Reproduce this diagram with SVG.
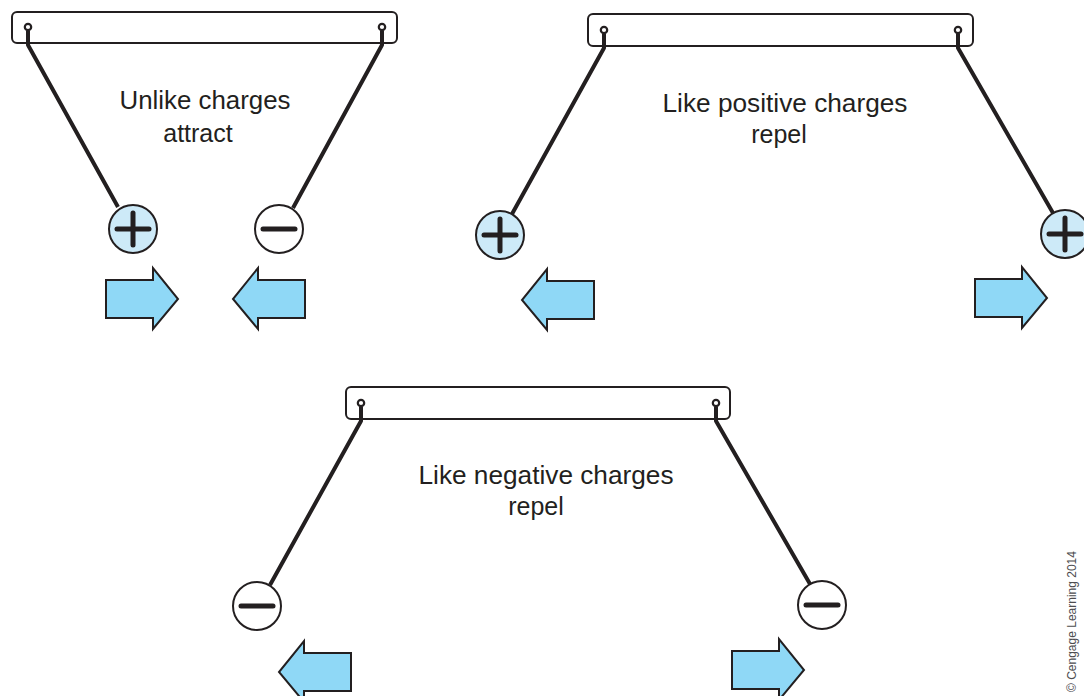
<svg xmlns="http://www.w3.org/2000/svg" width="1084" height="696" viewBox="0 0 1084 696">
  <style>
    .bar { fill: #ffffff; stroke: #231f20; stroke-width: 2; }
    .pin { fill: #ffffff; stroke: #231f20; stroke-width: 2.2; }
    .string { fill: none; stroke: #231f20; stroke-width: 4; stroke-linejoin: round; }
    .pos { fill: #cdeaf8; stroke: #231f20; stroke-width: 2; }
    .neg { fill: #ffffff; stroke: #231f20; stroke-width: 2; }
    .sign { stroke: #231f20; stroke-width: 5; stroke-linecap: round; fill: none; }
    .arrow { fill: #8fd8f6; stroke: #231f20; stroke-width: 2; stroke-linejoin: miter; }
    .label { font-family: "Liberation Sans", Arial, sans-serif; font-size: 25px; fill: #231f20; text-anchor: middle; }
    .credit { font-family: "Liberation Sans", Arial, sans-serif; font-size: 12px; fill: #4d4d4f; }
  </style>
  <defs>
    <path id="arrowR" class="arrow" d="M0,-19 H47 V-31 L72,0 L47,30 V19 H0 Z"/>
    <path id="arrowL" class="arrow" d="M0,-19 H-47 V-31 L-72,0 L-47,30 V19 H0 Z"/>
    <g id="plusSign"><line class="sign" x1="-16" y1="0" x2="16" y2="0"/><line class="sign" x1="0" y1="-16" x2="0" y2="16"/></g>
    <line id="minusSign" class="sign" x1="-16" y1="0" x2="16" y2="0"/>
  </defs>

  <!-- Bars (drawn first so strings show over them) -->
  <g id="bar1">
    <rect class="bar" x="12" y="12" width="385" height="31" rx="5"/>
    <circle class="pin" cx="28" cy="27" r="3.2"/>
    <circle class="pin" cx="382" cy="27" r="3.2"/>
  </g>
  <g id="bar2">
    <rect class="bar" x="588" y="14" width="385" height="32" rx="5"/>
    <circle class="pin" cx="604" cy="30" r="3.2"/>
    <circle class="pin" cx="958" cy="30" r="3.2"/>
  </g>
  <g id="bar3">
    <rect class="bar" x="346" y="387" width="384" height="32" rx="5"/>
    <circle class="pin" cx="361" cy="403" r="3.2"/>
    <circle class="pin" cx="716" cy="403" r="3.2"/>
  </g>

  <g id="connectors">
    <path class="string" d="M28,31 V45 L118,207"/>
    <path class="string" d="M382,31 V45 L293,208"/>
    <path class="string" d="M604,34 V48 L512,214"/>
    <path class="string" d="M958,34 V48 L1053,213"/>
    <path class="string" d="M361,407 V421 L270,585"/>
    <path class="string" d="M716,407 V421 L810,584"/>
  </g>

  <!-- Panel 1 -->
  <g id="ball1-pos">
    <circle class="pos" cx="133" cy="229" r="24"/>
    <use href="#plusSign" x="133" y="229"/>
  </g>
  <g id="ball1-neg">
    <circle class="neg" cx="279" cy="229" r="24"/>
    <use href="#minusSign" x="279" y="229"/>
  </g>
  <g id="arrow1-right"><use href="#arrowR" x="106" y="299"/></g>
  <g id="arrow1-left"><use href="#arrowL" x="305" y="299"/></g>
  <g id="label1">
    <text class="label" x="205" y="109" textLength="171" lengthAdjust="spacingAndGlyphs">Unlike charges</text>
    <text class="label" x="198" y="142">attract</text>
  </g>

  <!-- Panel 2 -->
  <g id="ball2-left">
    <circle class="pos" cx="500" cy="235" r="24"/>
    <use href="#plusSign" x="500" y="235"/>
  </g>
  <g id="ball2-right">
    <circle class="pos" cx="1065" cy="234" r="24"/>
    <use href="#plusSign" x="1065" y="234"/>
  </g>
  <g id="arrow2-left"><use href="#arrowL" x="594" y="300"/></g>
  <g id="arrow2-right"><use href="#arrowR" x="975" y="298"/></g>
  <g id="label2">
    <text class="label" x="785" y="112" textLength="245" lengthAdjust="spacingAndGlyphs">Like positive charges</text>
    <text class="label" x="779" y="143">repel</text>
  </g>

  <!-- Panel 3 -->
  <g id="ball3-left">
    <circle class="neg" cx="257" cy="606" r="24"/>
    <use href="#minusSign" x="257" y="606"/>
  </g>
  <g id="ball3-right">
    <circle class="neg" cx="822" cy="605" r="24"/>
    <use href="#minusSign" x="822" y="605"/>
  </g>
  <g id="arrow3-left"><use href="#arrowL" x="351" y="672"/></g>
  <g id="arrow3-right"><use href="#arrowR" x="732" y="670"/></g>
  <g id="label3">
    <text class="label" x="546" y="484" textLength="255" lengthAdjust="spacingAndGlyphs">Like negative charges</text>
    <text class="label" x="536" y="515">repel</text>
  </g>

  <text class="credit" transform="translate(1076,692) rotate(-90)">© Cengage Learning 2014</text>
</svg>
